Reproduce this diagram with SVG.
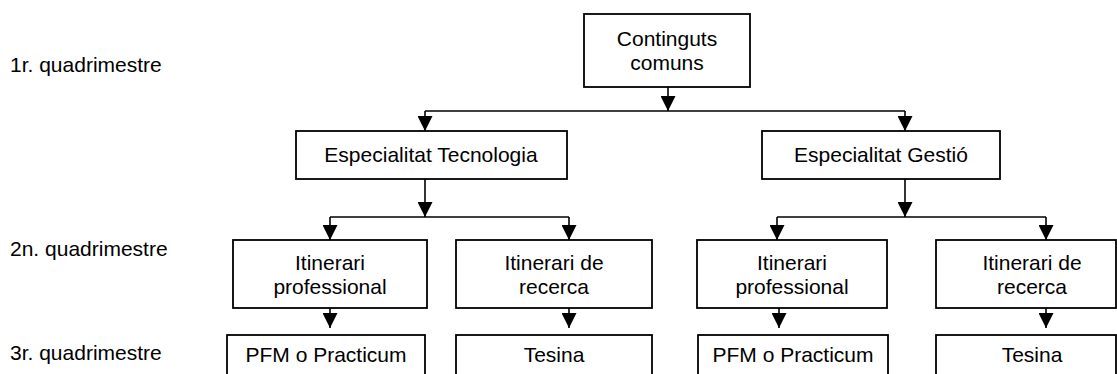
<svg xmlns="http://www.w3.org/2000/svg" width="1117" height="374" viewBox="0 0 1117 374">
<style>
.box{fill:#fff;stroke:#000;stroke-width:1.8}
.t{font-family:"Liberation Sans",Arial,sans-serif;font-size:21px;fill:#000}
.c{text-anchor:middle}
.ln{fill:none;stroke:#000;stroke-width:1.6}
.ar{fill:none;stroke:#000;stroke-width:1.6;marker-end:url(#ah)}
</style>
<defs>
<marker id="ah" markerWidth="15" markerHeight="15" refX="15" refY="7.5" orient="auto" markerUnits="userSpaceOnUse">
<path d="M0,0 L15,7.5 L0,15 z" fill="#000"/>
</marker>
</defs>
<rect width="1117" height="374" fill="#fff"/>
<g id="labels">
<text class="t" x="10" y="72">1r. quadrimestre</text>
<text class="t" x="10" y="256">2n. quadrimestre</text>
<text class="t" x="10" y="360">3r. quadrimestre</text>
</g>
<g id="connectors">
<path class="ar" d="M668,87 V111"/>
<path class="ln" d="M425,111 H905"/>
<path class="ar" d="M425,111 V131"/>
<path class="ar" d="M905,111 V131"/>
<path class="ar" d="M425,179 V217"/>
<path class="ar" d="M905,179 V217"/>
<path class="ln" d="M330,217 H569"/>
<path class="ar" d="M330,217 V240"/>
<path class="ar" d="M569,217 V240"/>
<path class="ln" d="M777,217 H1046"/>
<path class="ar" d="M777,217 V240"/>
<path class="ar" d="M1046,217 V240"/>
<path class="ar" d="M330,308 V328"/>
<path class="ar" d="M569,308 V328"/>
<path class="ar" d="M779,308 V328"/>
<path class="ar" d="M1046,308 V328"/>
</g>
<g id="n-comuns">
<rect class="box" x="584" y="14" width="166" height="73"/>
<text class="t c" x="667" y="46">Continguts</text>
<text class="t c" x="667" y="70">comuns</text>
</g>
<g id="n-tecnologia">
<rect class="box" x="296" y="131" width="271" height="48"/>
<text class="t c" x="431" y="162">Especialitat Tecnologia</text>
</g>
<g id="n-gestio">
<rect class="box" x="762" y="131" width="238" height="48"/>
<text class="t c" x="881" y="162">Especialitat Gestió</text>
</g>
<g id="n-prof1">
<rect class="box" x="233" y="240" width="194" height="68"/>
<text class="t c" x="330" y="270">Itinerari</text>
<text class="t c" x="330" y="294">professional</text>
</g>
<g id="n-rec1">
<rect class="box" x="456" y="240" width="196" height="68"/>
<text class="t c" x="554" y="270">Itinerari de</text>
<text class="t c" x="554" y="294">recerca</text>
</g>
<g id="n-prof2">
<rect class="box" x="697" y="240" width="190" height="68"/>
<text class="t c" x="792" y="270">Itinerari</text>
<text class="t c" x="792" y="294">professional</text>
</g>
<g id="n-rec2">
<rect class="box" x="936" y="240" width="180" height="68"/>
<text class="t c" x="1032" y="270">Itinerari de</text>
<text class="t c" x="1032" y="294">recerca</text>
</g>
<g id="n-pfm1">
<rect class="box" x="227" y="335" width="198" height="60"/>
<text class="t c" x="326" y="362">PFM o Practicum</text>
</g>
<g id="n-tes1">
<rect class="box" x="456" y="335" width="196" height="60"/>
<text class="t c" x="554" y="362">Tesina</text>
</g>
<g id="n-pfm2">
<rect class="box" x="698" y="335" width="190" height="60"/>
<text class="t c" x="793" y="362">PFM o Practicum</text>
</g>
<g id="n-tes2">
<rect class="box" x="936" y="335" width="180" height="60"/>
<text class="t c" x="1032" y="362">Tesina</text>
</g>
</svg>
